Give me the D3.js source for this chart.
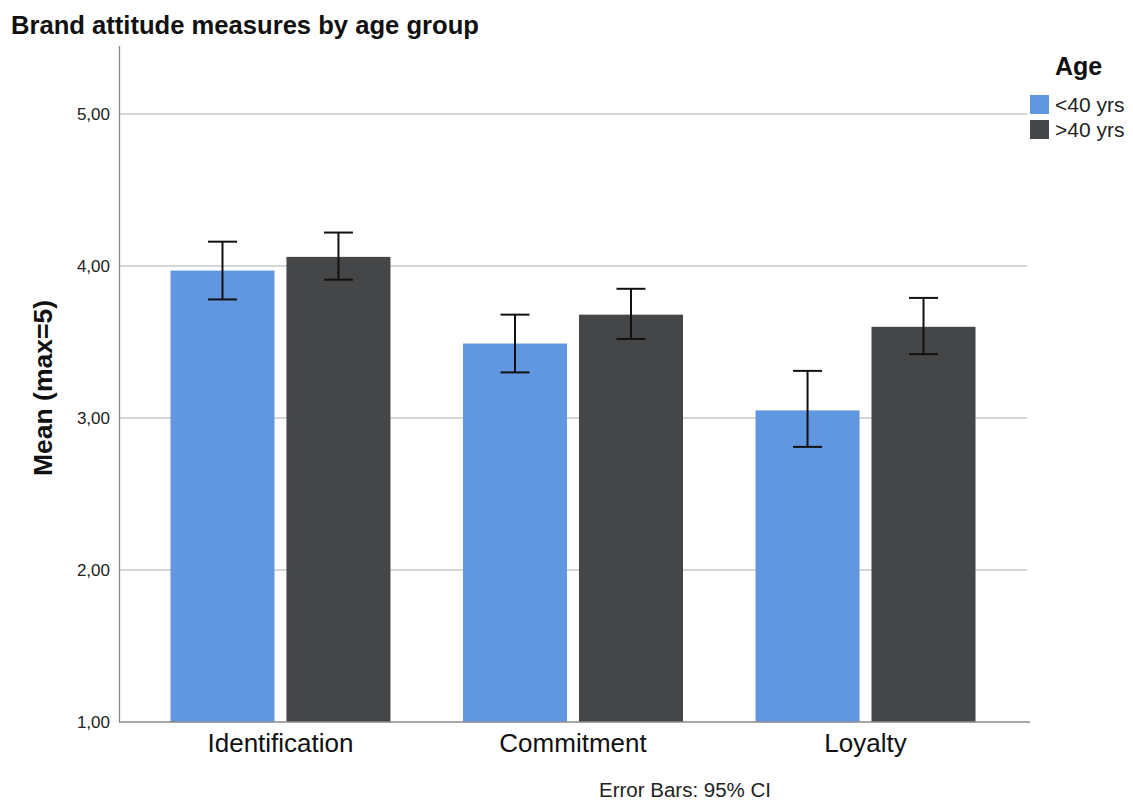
<!DOCTYPE html>
<html>
<head>
<meta charset="utf-8">
<script src="https://cdn.jsdelivr.net/npm/d3@7"></script>
<style>
  html, body { margin: 0; padding: 0; background: #fff; }
  svg { display: block; font-family: "Liberation Sans", Arial, Helvetica, sans-serif; }
</style>
</head>
<body>
<svg id="chart" width="1133" height="801"></svg>
<script>
// Brand attitude measures, mean with 95% CI, by age group
const categories = ["Identification", "Commitment", "Loyalty"];
const groups = ["<40 yrs", ">40 yrs"];
const meansUnder40 = [3.97, 3.49, 3.05];
const meansOver40 = [4.06, 3.68, 3.60];
const ciLowUnder40 = [3.78, 3.30, 2.81];
const ciHighUnder40 = [4.16, 3.68, 3.31];
const ciLowOver40 = [3.91, 3.52, 3.42];
const ciHighOver40 = [4.22, 3.85, 3.79];
const yTicks = [1, 2, 3, 4, 5];
const colors = ["#6197e0", "#454648"];

const rows = categories.map((c, i) => ({
  category: c,
  values: [
    { group: groups[0], mean: meansUnder40[i], lo: ciLowUnder40[i], hi: ciHighUnder40[i] },
    { group: groups[1], mean: meansOver40[i], lo: ciLowOver40[i], hi: ciHighOver40[i] }
  ]
}));

const svg = d3.select("#chart");
const plotLeft = 119, plotRight = 1027, plotTop = 45.6, plotBottom = 722;

const y = d3.scaleLinear().domain([1, 5.45]).range([plotBottom, plotTop]);
const x0 = d3.scaleBand().domain(categories).range([plotLeft, plotRight])
  .paddingInner(0.248).paddingOuter(0.176);
const x1 = d3.scaleBand().domain(groups).range([0, x0.bandwidth()]).paddingInner(0.103);
const color = d3.scaleOrdinal().domain(groups).range(colors);

// Gridlines
svg.append("g")
  .selectAll("line")
  .data(yTicks.filter(t => t > 1))
  .join("line")
  .attr("x1", plotLeft).attr("x2", plotRight)
  .attr("y1", d => y(d)).attr("y2", d => y(d))
  .attr("stroke", "#c9c9c9").attr("stroke-width", 1.3);

// Bars
const gCat = svg.append("g").selectAll("g")
  .data(rows)
  .join("g")
  .attr("transform", d => `translate(${x0(d.category)},0)`);

gCat.selectAll("rect")
  .data(d => d.values)
  .join("rect")
  .attr("x", d => x1(d.group))
  .attr("width", x1.bandwidth())
  .attr("y", d => y(d.mean))
  .attr("height", d => y(1) - y(d.mean))
  .attr("fill", d => color(d.group));

// Error bars
const capHalf = 14.5;
const eb = gCat.selectAll("g.err")
  .data(d => d.values)
  .join("g")
  .attr("class", "err")
  .attr("stroke", "#111")
  .attr("stroke-width", 2);
eb.append("line")
  .attr("x1", d => x1(d.group) + x1.bandwidth() / 2)
  .attr("x2", d => x1(d.group) + x1.bandwidth() / 2)
  .attr("y1", d => y(d.lo)).attr("y2", d => y(d.hi));
eb.append("line")
  .attr("x1", d => x1(d.group) + x1.bandwidth() / 2 - capHalf)
  .attr("x2", d => x1(d.group) + x1.bandwidth() / 2 + capHalf)
  .attr("y1", d => y(d.hi)).attr("y2", d => y(d.hi));
eb.append("line")
  .attr("x1", d => x1(d.group) + x1.bandwidth() / 2 - capHalf)
  .attr("x2", d => x1(d.group) + x1.bandwidth() / 2 + capHalf)
  .attr("y1", d => y(d.lo)).attr("y2", d => y(d.lo));

// Y axis
const yAxis = svg.append("g")
  .attr("transform", `translate(${plotLeft},0)`)
  .call(d3.axisLeft(y).tickValues(yTicks).tickSize(0).tickPadding(9)
    .tickFormat(d => d3.format(".2f")(d).replace(".", ",")));
yAxis.select(".domain").attr("stroke", "#888").attr("stroke-width", 1.3);
yAxis.selectAll("text").attr("font-size", 17).attr("fill", "#222")
  .attr("font-family", "'Liberation Sans', Arial, sans-serif");

// X axis
const xAxis = svg.append("g")
  .attr("transform", `translate(0,${plotBottom})`)
  .call(d3.axisBottom(x0).tickSize(0).tickPadding(11.5));
xAxis.select(".domain").attr("d", `M${plotLeft},0H${plotRight + 3}`)
  .attr("stroke", "#888").attr("stroke-width", 1.3);
xAxis.selectAll("text").attr("font-size", 26).attr("fill", "#111")
  .attr("font-family", "'Liberation Sans', Arial, sans-serif");

// Title
svg.append("text")
  .attr("x", 11).attr("y", 34)
  .attr("font-size", 25.6).attr("font-weight", "bold").attr("fill", "#111")
  .text("Brand attitude measures by age group");

// Y axis title
svg.append("text")
  .attr("transform", `translate(52,388) rotate(-90)`)
  .attr("text-anchor", "middle")
  .attr("font-size", 26.5).attr("font-weight", "bold").attr("fill", "#111")
  .text("Mean (max=5)");

// Footnote
svg.append("text")
  .attr("x", 685).attr("y", 797)
  .attr("text-anchor", "middle")
  .attr("font-size", 20.5).attr("fill", "#222")
  .text("Error Bars: 95% CI");

// Legend
const legend = svg.append("g");
legend.append("text")
  .attr("x", 1055).attr("y", 75)
  .attr("font-size", 25).attr("font-weight", "bold").attr("fill", "#111")
  .text("Age");
const item = legend.selectAll("g.item")
  .data(groups)
  .join("g")
  .attr("class", "item")
  .attr("transform", (d, i) => `translate(1030,${95 + i * 25})`);
item.append("rect")
  .attr("width", 19).attr("height", 19)
  .attr("fill", d => color(d));
item.append("text")
  .attr("x", 25).attr("y", 17)
  .attr("font-size", 21).attr("fill", "#222")
  .text(d => d);
</script>
</body>
</html>
